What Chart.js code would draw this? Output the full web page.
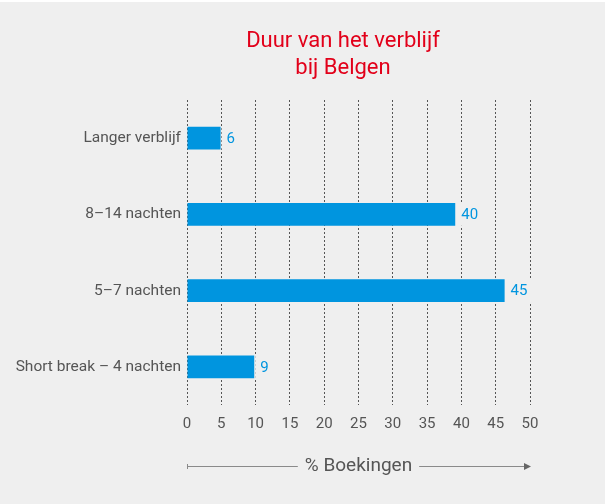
<!DOCTYPE html>
<html>
<head>
<meta charset="utf-8">
<script src="https://cdn.jsdelivr.net/npm/chart.js@4"></script>
<style>
  html, body { margin: 0; padding: 0; background: #fff; }
  #wrap { width: 607px; height: 504px; }
</style>
</head>
<body>
<div id="wrap"><canvas id="myChart" width="607" height="504"></canvas></div>
<script>
// data
const categories = ["Langer verblijf", "8–14 nachten", "5–7 nachten", "Short break – 4 nachten"];
const barValues = [4.9, 39.1, 46.3, 9.8];   // bar lengths as drawn
const shownLabels = ["6", "40", "45", "9"]; // numbers printed next to the bars
const xTicks = [0, 5, 10, 15, 20, 25, 30, 35, 40, 45, 50];
const titleLines = ["Duur van het verblijf", "bij Belgen"];
const axisTitle = "% Boekingen";

const grey = "#555555";
const blue = "#0095df";
const panel = "#efefef";

// gray panel behind everything
const panelBg = {
  id: "panelBg",
  beforeDraw(chart) {
    const c = chart.ctx;
    c.save();
    c.fillStyle = panel;
    c.fillRect(0, 2, chart.width - 2, chart.height - 2);
    c.restore();
  },
};

// red two-line title (sits a bit left of the plot centre in the original)
const topTitle = {
  id: "topTitle",
  afterDraw(chart) {
    const c = chart.ctx;
    c.save();
    c.font = "22px Roboto";
    c.fillStyle = "#e2001a";
    c.textAlign = "center";
    c.textBaseline = "alphabetic";
    titleLines.forEach((line, i) => {
      c.fillText(line, 343, 47 + i * 27);
    });
    c.restore();
  },
};

// value next to each bar, on a gray patch that hides the grid
const barValueLabels = {
  id: "barValueLabels",
  afterDatasetsDraw(chart) {
    const c = chart.ctx;
    const meta = chart.getDatasetMeta(0);
    c.save();
    c.font = "15px Roboto";
    c.textBaseline = "middle";
    meta.data.forEach((bar, i) => {
      const w = c.measureText(shownLabels[i]).width;
      const h = bar.height;
      c.fillStyle = panel;
      c.fillRect(bar.x + 1, bar.y - h / 2, w + 11, h);
      c.fillStyle = blue;
      c.fillText(shownLabels[i], bar.x + 6, bar.y + 1);
    });
    c.restore();
  },
};

// "% Boekingen" with arrow line under the x axis
const axisArrow = {
  id: "axisArrow",
  afterDraw(chart) {
    const c = chart.ctx;
    const x = chart.scales.x;
    const y = 466;
    const mid = (x.left + x.right) / 2;
    c.save();
    c.font = "19px Roboto";
    c.fillStyle = grey;
    c.textAlign = "center";
    c.textBaseline = "middle";
    c.fillText(axisTitle, mid, y);
    const w = c.measureText(axisTitle).width;
    c.strokeStyle = "#8a8a8a";
    c.lineWidth = 1;
    c.beginPath();
    c.moveTo(x.left, y + 0.5);
    c.lineTo(mid - w / 2 - 7, y + 0.5);
    c.moveTo(mid + w / 2 + 7, y + 0.5);
    c.lineTo(x.right - 4, y + 0.5);
    c.moveTo(x.left + 0.5, y - 2);
    c.lineTo(x.left + 0.5, y + 3);
    c.stroke();
    c.fillStyle = "#666";
    c.beginPath();
    c.moveTo(x.right + 1, y + 0.5);
    c.lineTo(x.right - 6, y - 3);
    c.lineTo(x.right - 6, y + 4);
    c.closePath();
    c.fill();
    c.restore();
  },
};

const ctx = document.getElementById("myChart");

const myChart = new Chart(ctx, {
  type: "bar",
  data: {
    labels: categories,
    datasets: [
      {
        data: barValues,
        backgroundColor: blue,
        categoryPercentage: 1,
        barPercentage: 0.3,
      },
    ],
  },
  options: {
    indexAxis: "y",
    responsive: false,
    animation: false,
    layout: {
      padding: { top: 100, right: 77, left: 0, bottom: 0 },
    },
    plugins: {
      legend: { display: false },
      tooltip: { enabled: false },
      title: { display: false },
    },
    scales: {
      x: {
        min: 0,
        max: 50,
        afterBuildTicks(scale) {
          scale.ticks = xTicks.map((v) => ({ value: v }));
        },
        afterFit(scale) {
          scale.height = 99;
        },
        border: { display: false, dash: [2, 2] },
        grid: {
          color: grey,
          drawTicks: false,
        },
        ticks: {
          color: grey,
          padding: 10,
          font: { family: "Roboto", size: 15 },
        },
      },
      y: {
        afterFit(scale) {
          scale.width = 187;
        },
        border: { display: false },
        grid: { display: false, drawTicks: false },
        ticks: {
          color: grey,
          padding: 6,
          font: { family: "Roboto", size: 15.5 },
        },
      },
    },
  },
  plugins: [panelBg, topTitle, barValueLabels, axisArrow],
});
</script>
</body>
</html>
